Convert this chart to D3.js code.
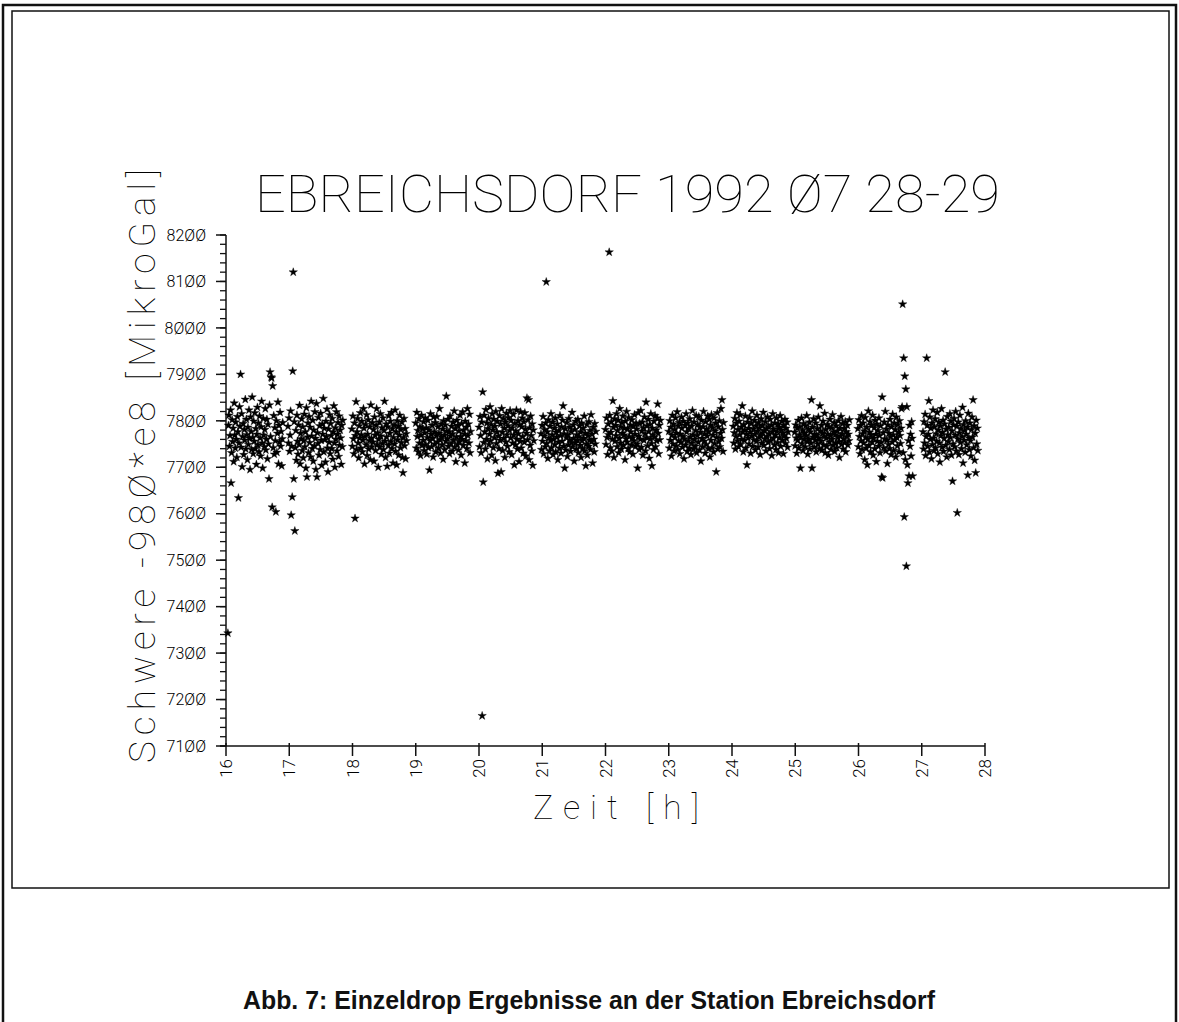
<!DOCTYPE html>
<meta charset="utf-8">
<title>Ebreichsdorf 1992 07 28-29</title>
<script src="https://d3js.org/d3.v7.min.js"></script>
<style>
body { margin: 0; background: #fff; }
svg { display: block; }
.plot text { font-family: Roboto, "DejaVu Sans", sans-serif; font-weight: 100; fill: #000; }
.plot text.tick { font-weight: 300; }
.caption { font-family: "Liberation Sans", Arial, sans-serif; font-weight: bold; fill: #111; }
</style>
<body>
<div id="vis"></div>
<script>

// start of each drop set [h] and spacing between drops [h] (one drop every 30 s)
var setStart = [16.03, 16.98, 17.99, 19.0, 20.0, 20.98, 22.0, 23.0, 24.02, 24.99, 25.99, 27.02];
var dropStep = 0.5 / 60;

// single drop results, Schwere - 980*e8 [MikroGal], one array per hourly set
var set16 = [7343,7790,7812,7745,7768,7823,7666,7731,7802,7755, 7784,7712,7838,7769,7741,7797,7760,7721,7809,7776,
  7634,7752,7830,7788,7900,7743,7815,7701,7766,7794, 7727,7781,7758,7846,7739,7803,7770,7716,7786,7749,
  7823,7762,7695,7808,7777,7738,7851,7764,7729,7799, 7756,7817,7740,7783,7706,7771,7829,7748,7795,7733,
  7810,7763,7724,7787,7842,7752,7698,7805,7769,7744, 7781,7826,7737,7760,7803,7718,7792,7750,7675,7834,
  7905,7766,7894,7892,7614,7875,7742,7811,7728,7785, 7757,7604,7800,7732,7773,7840,7707,7790,7754,7818,
  7745,7777,7703,7761,7796];
var set17 = [7788,7752,7806,7734,7769,7821,7597,7745,7636,7907, 8120,7675,7798,7563,7742,7779,7715,7812,7756,7728,
  7791,7749,7833,7707,7773,7761,7804,7736,7787,7720, 7757,7814,7744,7776,7698,7828,7679,7765,7795,7731,
  7809,7753,7786,7722,7842,7767,7740,7801,7713,7780, 7746,7819,7762,7695,7837,7679,7774,7751,7807,7726,
  7789,7738,7816,7758,7704,7793,7771,7848,7733,7784, 7759,7711,7799,7766,7825,7741,7690,7782,7754,7813,
  7729,7794,7768,7740,7805,7717,7776,7832,7752,7700, 7785,7760,7819,7735,7771,7796,7723,7810,7747,7780,
  7763,7706,7790,7744,7801];
var set18 = [7782,7745,7810,7761,7729,7795,7590,7768,7841,7738, 7776,7805,7752,7720,7789,7763,7817,7741,7770,7799,
  7733,7758,7826,7784,7707,7766,7792,7748,7813,7725, 7771,7802,7739,7757,7787,7716,7834,7762,7744,7796,
  7754,7781,7713,7808,7769,7736,7790,7826,7749,7774, 7700,7760,7797,7743,7815,7767,7728,7785,7751,7806,
  7738,7779,7842,7756,7721,7793,7765,7702,7787,7747, 7811,7730,7773,7799,7755,7818,7740,7783,7709,7764,
  7791,7750,7823,7734,7776,7705,7800,7759,7788,7726, 7769,7812,7742,7781,7753,7797,7721,7688,7764,7805,
  7746,7783,7718,7772,7757];
var set19 = [7795,7741,7818,7766,7779,7733,7804,7752,7787,7725, 7769,7812,7747,7783,7758,7798,7736,7774,7806,7749,
  7785,7728,7764,7801,7742,7780,7694,7757,7815,7771, 7744,7790,7762,7722,7808,7776,7750,7796,7733,7768,
  7809,7754,7787,7741,7773,7826,7759,7730,7793,7765, 7748,7782,7717,7800,7769,7738,7791,7756,7853,7778,
  7761,7803,7745,7776,7729,7810,7767,7751,7788,7734, 7772,7797,7758,7821,7743,7783,7712,7765,7801,7749,
  7790,7737,7778,7755,7812,7766,7726,7794,7760,7819, 7747,7780,7771,7709,7799,7757,7786,7740,7826,7768,
  7793,7752,7814,7731,7777];
var set20 = [7786,7744,7809,7768,7731,7797,7165,7862,7668,7753, 7812,7776,7739,7824,7760,7795,7718,7783,7805,7749,
  7771,7830,7757,7792,7726,7815,7780,7742,7803,7764, 7788,7714,7820,7751,7776,7799,7687,7767,7740,7811,
  7758,7793,7690,7826,7775,7736,7805,7762,7784,7721, 7797,7754,7816,7770,7745,7789,7807,7733,7779,7822,
  7763,7801,7727,7785,7752,7814,7769,7705,7794,7748, 7778,7823,7760,7739,7800,7772,7712,7791,7756,7819,
  7741,7787,7806,7766,7730,7798,7754,7817,7782,7724, 7773,7849,7759,7802,7845,7716,7785,7747,7810,7768,
  7735,7793,7704,7780,7757];
var set21 = [7772,7738,7790,7756,7809,7729,7767,7781,7744,7795, 8099,7751,7776,7719,7802,7763,7735,7788,7758,7815,
  7742,7770,7797,7727,7760,7784,7749,7806,7733,7775, 7765,7793,7716,7754,7779,7741,7811,7768,7730,7787,
  7756,7801,7832,7745,7772,7698,7783,7737,7764,7796, 7723,7769,7748,7805,7759,7786,7734,7777,7753,7818,
  7744,7791,7762,7713,7781,7752,7799,7739,7770,7758, 7803,7731,7766,7789,7747,7776,7721,7795,7757,7740,
  7784,7762,7810,7735,7773,7703,7750,7792,7726,7768, 7745,7798,7759,7779,7738,7813,7755,7771,7709,7786,
  7760,7733,7794,7750,7777];
var set22 = [7781,7749,7806,7764,7727,7793,7770,8163,7812,7742, 7775,7798,7735,7760,7843,7786,7721,7804,7756,7790,
  7768,7815,7744,7779,7801,7731,7762,7826,7752,7787, 7739,7796,7773,7810,7747,7769,7784,7716,7799,7761,
  7820,7754,7783,7740,7807,7766,7733,7791,7776,7748, 7802,7763,7728,7788,7757,7813,7771,7745,7795,7782,
  7750,7698,7817,7767,7738,7794,7760,7822,7743,7778, 7797,7726,7785,7758,7808,7772,7735,7840,7764,7789,
  7746,7803,7777,7719,7792,7761,7815,7751,7703,7784, 7770,7738,7799,7765,7811,7744,7780,7757,7806,7836,
  7773,7729,7790,7759,7801];
var set23 = [7777,7741,7800,7758,7786,7724,7769,7812,7750,7793, 7735,7781,7764,7806,7746,7773,7819,7738,7789,7757,
  7796,7729,7771,7753,7808,7784,7743,7766,7799,7718, 7761,7790,7748,7815,7776,7734,7795,7757,7783,7741,
  7804,7765,7727,7788,7752,7822,7770,7739,7797,7760, 7745,7779,7811,7731,7768,7792,7754,7809,7737,7786,
  7775,7713,7801,7762,7744,7787,7820,7756,7772,7730, 7798,7749,7782,7767,7810,7740,7776,7803,7722,7791,
  7758,7813,7742,7785,7769,7733,7806,7751,7778,7795, 7690,7764,7817,7739,7787,7755,7800,7744,7773,7826,
  7762,7845,7781,7734,7796];
var set24 = [7788,7752,7774,7805,7739,7766,7795,7817,7757,7781, 7744,7799,7770,7813,7749,7786,7760,7832,7776,7733,
  7792,7758,7780,7810,7741,7771,7705,7797,7763,7784, 7750,7807,7775,7730,7794,7767,7821,7745,7782,7759,
  7801,7771,7737,7789,7756,7812,7778,7743,7796,7764, 7785,7727,7768,7804,7752,7790,7774,7818,7747,7779,
  7761,7798,7735,7783,7766,7808,7754,7787,7772,7740, 7803,7757,7791,7725,7776,7815,7762,7782,7748,7795,
  7769,7738,7806,7777,7753,7793,7731,7786,7764,7811, 7745,7780,7799,7758,7773,7729,7790,7768,7803,7751,
  7784,7762,7797,7743,7776];
var set25 = [7775,7746,7791,7763,7730,7784,7758,7801,7741,7770, 7787,7698,7765,7806,7751,7779,7736,7794,7760,7773,
  7744,7789,7768,7811,7755,7728,7782,7761,7797,7739, 7776,7752,7845,7698,7786,7765,7804,7743,7771,7758,
  7795,7733,7769,7783,7750,7808,7762,7740,7832,7778, 7756,7790,7737,7773,7799,7748,7766,7816,7731,7781,
  7763,7745,7792,7771,7726,7787,7754,7803,7768,7738, 7785,7760,7813,7747,7776,7796,7734,7770,7752,7789,
  7742,7778,7764,7800,7755,7721,7784,7767,7809,7749, 7772,7794,7739,7761,7783,7753,7798,7733,7776,7766,
  7790,7748,7771,7757,7802];
var set26 = [7783,7744,7802,7766,7729,7790,7757,7811,7738,7772, 7795,7752,7778,7716,7807,7764,7741,7786,7705,7760,
  7821,7747,7775,7798,7733,7769,7790,7754,7812,7726, 7762,7785,7740,7801,7771,7712,7793,7756,7779,7745,
  7806,7768,7731,7789,7753,7679,7851,7677,7774,7742, 7797,7761,7820,7735,7782,7758,7708,7791,7749,7773,
  7740,7803,7766,7727,7787,7754,7814,7770,7736,7795, 7759,7781,7722,7808,7764,7746,7792,7775,7733,7800,
  7768,7751,7784,7826,7830,8051,7731,7935,7593,7896, 7716,7868,7487,7830,7705,7666,7757,7681,7790,7745,
  7771,7724,7798,7762,7681];
var set27 = [7776,7739,7798,7752,7814,7725,7766,7935,7790,7745, 7771,7843,7733,7808,7760,7784,7718,7795,7749,7823,
  7763,7736,7787,7804,7741,7772,7756,7818,7729,7780, 7797,7752,7711,7789,7768,7826,7743,7775,7801,7734,
  7762,7793,7905,7747,7782,7722,7809,7770,7755,7786, 7738,7815,7764,7799,7726,7778,7670,7750,7791,7805,
  7744,7769,7820,7735,7788,7602,7761,7797,7727,7774, 7812,7753,7783,7740,7766,7829,7709,7792,7758,7779,
  7732,7800,7771,7748,7786,7683,7816,7763,7738,7795, 7757,7724,7781,7808,7765,7845,7742,7789,7715,7773,
  7688,7801,7750,7784,7736];

var sets = [set16, set17, set18, set19, set20, set21, set22, set23, set24, set25, set26, set27];

var hourTicks = d3.range(16, 29);
var gravTicks = d3.range(7100, 8201, 100);
var gravMinor = d3.range(7100, 8201, 20);

var title = "EBREICHSDORF 1992 \u00D87 28-29";
var yLabel = "Schwere -98\u00D8*e8 [MikroGal]";
var xLabel = "Zeit [h]";
var caption = "Abb. 7: Einzeldrop Ergebnisse an der Station Ebreichsdorf";

var W = 1179, H = 1022;

var svg = d3.select("#vis").append("svg")
  .attr("width", W)
  .attr("height", H);

// frames
svg.append("rect")
  .attr("x", 3).attr("y", 5).attr("width", 1173).attr("height", 1040)
  .attr("fill", "none").attr("stroke", "#111").attr("stroke-width", 2.5);
svg.append("rect")
  .attr("x", 12).attr("y", 11).attr("width", 1157).attr("height", 877)
  .attr("fill", "none").attr("stroke", "#111").attr("stroke-width", 1.5);

var x = d3.scaleLinear().domain([16, 28]).range([226, 985]);
var y = d3.scaleLinear().domain([7100, 8200]).range([746, 235]);

var plot = svg.append("g").attr("class", "plot");

// zeros are drawn slashed like on the plotter
function slashZero(s) { return String(s).replace(/0/g, "\u00D8"); }

// y axis
plot.append("line")
  .attr("x1", x(16)).attr("x2", x(16))
  .attr("y1", y(7100)).attr("y2", y(8200))
  .attr("stroke", "#111").attr("stroke-width", 1.5);

plot.selectAll(".yminor")
  .data(gravMinor)
  .enter().append("line")
  .attr("x1", x(16) - 6).attr("x2", x(16))
  .attr("y1", function(d) { return y(d); })
  .attr("y2", function(d) { return y(d); })
  .attr("stroke", "#111").attr("stroke-width", 1.3);

plot.selectAll(".ymajor")
  .data(gravTicks)
  .enter().append("line")
  .attr("x1", x(16) - 10).attr("x2", x(16))
  .attr("y1", function(d) { return y(d); })
  .attr("y2", function(d) { return y(d); })
  .attr("stroke", "#111").attr("stroke-width", 1.5);

plot.selectAll(".ylab")
  .data(gravTicks)
  .enter().append("text")
  .attr("class", "tick")
  .attr("x", 206)
  .attr("y", function(d) { return y(d); })
  .attr("dy", "0.36em")
  .attr("text-anchor", "end")
  .attr("font-size", 16)
  .text(slashZero);

// x axis
plot.append("line")
  .attr("x1", x(16) - 6).attr("x2", x(28))
  .attr("y1", y(7100)).attr("y2", y(7100))
  .attr("stroke", "#111").attr("stroke-width", 1.5);

plot.selectAll(".xtick")
  .data(hourTicks)
  .enter().append("line")
  .attr("x1", function(d) { return x(d); })
  .attr("x2", function(d) { return x(d); })
  .attr("y1", y(7100) - 3).attr("y2", y(7100) + 10)
  .attr("stroke", "#111").attr("stroke-width", 1.5);

plot.selectAll(".xlab")
  .data(hourTicks)
  .enter().append("text")
  .attr("class", "tick")
  .attr("transform", function(d) { return "translate(" + x(d) + "," + (y(7100) + 13) + ") rotate(-90)"; })
  .attr("dy", "0.36em")
  .attr("text-anchor", "end")
  .attr("font-size", 17)
  .text(function(d) { return d; });

// labels
plot.append("text")
  .attr("x", 255).attr("y", 212)
  .attr("font-size", 52)
  .attr("textLength", 745).attr("lengthAdjust", "spacingAndGlyphs")
  .text(title);

plot.append("text")
  .attr("x", 533).attr("y", 819)
  .attr("font-size", 34)
  .attr("textLength", 166).attr("lengthAdjust", "spacing")
  .text(xLabel);

plot.append("text")
  .attr("transform", "translate(155,763) rotate(-90)")
  .attr("font-size", 37)
  .attr("textLength", 594).attr("lengthAdjust", "spacing")
  .text(yLabel);

// drops
var drops = [];
sets.forEach(function(values, s) {
  values.forEach(function(v, i) {
    drops.push({ t: setStart[s] + i * dropStep, g: v });
  });
});

var star = d3.symbol().type(d3.symbolStar).size(22);

plot.append("g")
  .selectAll("path")
  .data(drops)
  .enter().append("path")
  .attr("d", star)
  .attr("transform", function(d) { return "translate(" + x(d.t) + "," + y(d.g) + ")"; })
  .attr("fill", "#000")
  .attr("stroke", "#000")
  .attr("stroke-width", 0.4);

svg.append("text")
  .attr("class", "caption")
  .attr("x", 589).attr("y", 1009)
  .attr("text-anchor", "middle")
  .attr("font-size", 26)
  .attr("textLength", 692).attr("lengthAdjust", "spacingAndGlyphs")
  .text(caption);

</script>
</body>
